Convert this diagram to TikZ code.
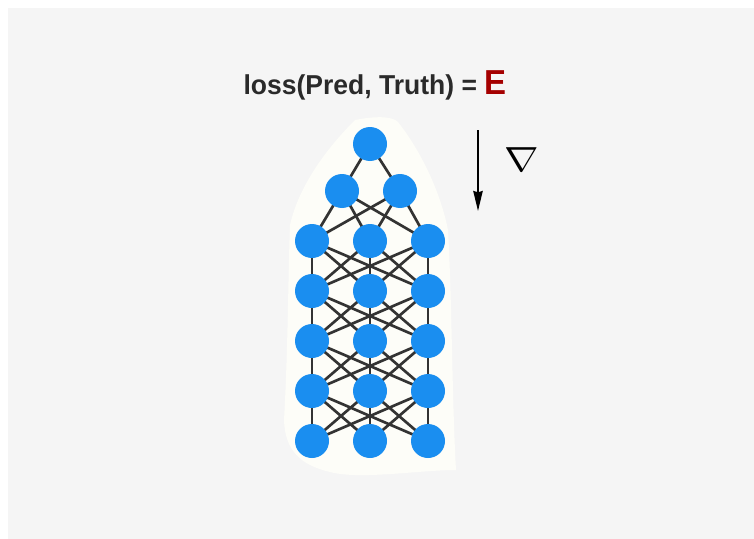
\documentclass[tikz,border=0pt]{standalone}
\usepackage{fontspec}
\setmainfont{Liberation Sans}
\usetikzlibrary{arrows.meta}
\pgfdeclarelayer{bg}
\pgfsetlayers{bg,main}
\definecolor{bgc}{HTML}{F5F5F5}
\definecolor{blob}{HTML}{FDFDF8}
\definecolor{neu}{HTML}{1A8EF0}
\definecolor{edg}{HTML}{333333}
\definecolor{ered}{HTML}{A50000}
\tikzset{
  neuron/.style={circle,fill=neu,minimum size=25.5pt,inner sep=0pt},
  link/.style={draw=edg,line width=2pt},
}
\begin{document}
\begin{tikzpicture}[x=0.75pt,y=-0.75pt]
\useasboundingbox (0,0) rectangle (754,539);
% title
\node (title) at (375,85) {\fontsize{20.5}{22}\selectfont\bfseries\color[HTML]{2A2A2A}\scalebox{0.97}[1]{loss(Pred, Truth) = }\scalebox{0.95}[1]{\fontsize{26}{28}\selectfont\color{ered}E}};
% neurons
\node[neuron] (n1) at (370,144) {};
\node[neuron] (m1) at (342,191) {};
\node[neuron] (m2) at (400,191) {};
\foreach \r/\y in {3/241,4/291,5/341,6/391,7/441}{
  \node[neuron] (r\r a) at (312,\y) {};
  \node[neuron] (r\r b) at (370,\y) {};
  \node[neuron] (r\r c) at (428,\y) {};
}
\begin{pgfonlayer}{bg}
\fill[white] (0,0) rectangle (754,539);
\fill[bgc] (8,8) rectangle (754,539);
\fill[blob] (355,120) .. controls (375,116) and (392,116) .. (398,122)
  .. controls (420,150) and (440,190) .. (448,230)
  .. controls (452,300) and (452,400) .. (456,470)
  .. controls (420,470) and (360,480) .. (330,472)
  .. controls (300,465) and (285,450) .. (284,420)
  .. controls (288,350) and (288,280) .. (290,225)
  .. controls (300,180) and (335,140) .. (355,120) -- cycle;
\draw[link] (n1.center) -- (m1.center);
\draw[link] (n1.center) -- (m2.center);
\foreach \t in {a,b,c}{
  \draw[link] (m1.center) -- (r3\t.center);
  \draw[link] (m2.center) -- (r3\t.center);
}
\foreach \r/\s in {3/4,4/5,5/6,6/7}{
  \foreach \p in {a,b,c}{
    \foreach \q in {a,b,c}{
      \draw[link] (r\r\p.center) -- (r\s\q.center);
    }
  }
}
\end{pgfonlayer}
% gradient arrow
\coordinate (gs) at (478,130);
\coordinate (ge) at (478,211);
\draw[line width=1.5pt,-{Stealth[length=15pt,width=7pt,inset=1pt]}] (gs) -- (ge);
\node (nabla) at (522,160) {\scalebox{1.25}[1.05]{\fontsize{30}{32}\selectfont$\nabla$}};
\end{tikzpicture}
\end{document}
